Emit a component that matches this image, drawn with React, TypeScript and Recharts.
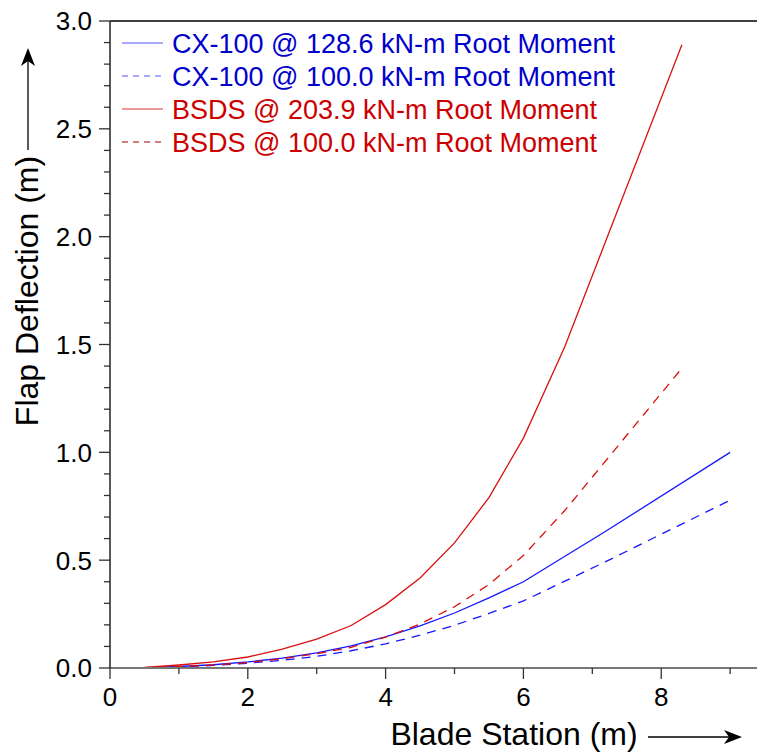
import { Legend, Line, LineChart, ReferenceLine, XAxis, YAxis } from 'recharts'

// blade stations (m) and flap deflections (m)
const bsdsStation = [0, 0.5, 1, 1.5, 2, 2.5, 3, 3.5, 4, 4.5, 5, 5.5, 6, 6.6, 8.3]
const bsdsHigh = [0, 0.003, 0.014, 0.028, 0.051, 0.088, 0.134, 0.197, 0.294, 0.417, 0.58, 0.79, 1.066, 1.49, 2.89]
const bsdsLow = [0, 0.0015, 0.007, 0.014, 0.025, 0.043, 0.066, 0.096, 0.143, 0.204, 0.284, 0.387, 0.522, 0.73, 1.39]

const cxStation = [0, 0.5, 1, 1.5, 2, 2.5, 3, 3.5, 4, 4.5, 5, 5.5, 6, 7.2, 9]
const cxHigh = [0, 0.001, 0.007, 0.015, 0.028, 0.046, 0.07, 0.103, 0.144, 0.195, 0.255, 0.325, 0.4, 0.635, 1.0]
const cxLow = [0, 0.001, 0.005, 0.012, 0.022, 0.036, 0.054, 0.08, 0.112, 0.152, 0.198, 0.253, 0.311, 0.494, 0.778]

const xTicks = [0, 1, 2, 3, 4, 5, 6, 7, 8, 9]
const xLabelled = [0, 2, 4, 6, 8]
const yTicks = [0, 0.1, 0.2, 0.3, 0.4, 0.5, 0.6, 0.7, 0.8, 0.9, 1.0, 1.1, 1.2, 1.3, 1.4, 1.5,
  1.6, 1.7, 1.8, 1.9, 2.0, 2.1, 2.2, 2.3, 2.4, 2.5, 2.6, 2.7, 2.8, 2.9, 3.0]
const yLabelled = [0, 0.5, 1.0, 1.5, 2.0, 2.5, 3.0]

const FONT = '"Liberation Sans", Arial, sans-serif'
const BLUE_LINE = '#1616ff'
const BLUE_TEXT = '#0000cc'
const RED_LINE = '#d81010'
const RED_TEXT = '#cc0000'

const series = [
  { key: 'cxHigh', name: 'CX-100 @ 128.6 kN-m Root Moment', x: cxStation, y: cxHigh, line: BLUE_LINE, text: BLUE_TEXT, dash: undefined, swatch: '#5555ff' },
  { key: 'cxLow', name: 'CX-100 @ 100.0 kN-m Root Moment', x: cxStation, y: cxLow, line: BLUE_LINE, text: BLUE_TEXT, dash: '9 7', swatch: '#5555ff' },
  { key: 'bsdsHigh', name: 'BSDS @ 203.9 kN-m Root Moment', x: bsdsStation, y: bsdsHigh, line: RED_LINE, text: RED_TEXT, dash: undefined, swatch: '#dd3333' },
  { key: 'bsdsLow', name: 'BSDS @ 100.0 kN-m Root Moment', x: bsdsStation, y: bsdsLow, line: RED_LINE, text: RED_TEXT, dash: '9 7', swatch: '#aa0000' },
]

function rows(xs: number[], ys: number[], key: string) {
  return xs.map((x, i) => ({ x, [key]: ys[i] }))
}

const isIn = (list: number[], v: number) => list.some((t) => Math.abs(t - v) < 1e-6)

function XTick({ x, y, payload }: any) {
  const major = isIn(xLabelled, payload.value)
  return (
    <g>
      <line x1={x} x2={x} y1={y} y2={y + (major ? 11 : 6)} stroke="#333" strokeWidth={1.3} />
      {major && (
        <text x={x} y={y + 38} textAnchor="middle" fontSize={26} fontFamily={FONT} fill="#000">
          {payload.value}
        </text>
      )}
    </g>
  )
}

function YTick({ x, y, payload }: any) {
  const major = isIn(yLabelled, payload.value)
  return (
    <g>
      <line x1={x - (major ? 11 : 6)} x2={x} y1={y} y2={y} stroke="#333" strokeWidth={1.3} />
      {major && (
        <text x={x - 18} y={y} dy="0.36em" textAnchor="end" fontSize={26} fontFamily={FONT} fill="#000">
          {Number(payload.value).toFixed(1)}
        </text>
      )}
    </g>
  )
}

function XTitle({ viewBox }: any) {
  const cx = viewBox.x + 404
  const base = 745
  return (
    <g>
      <text x={cx} y={base} textAnchor="middle" fontSize={32} fontFamily={FONT} fill="#000">
        Blade Station (m)
      </text>
      <line x1={648} x2={735} y1={737} y2={737} stroke="#000" strokeWidth={1.3} />
      <path d="M742,737 L724,730 L729,737 L724,744 Z" fill="#000" />
    </g>
  )
}

function YTitle() {
  return (
    <g>
      <text x={38} y={291} transform="rotate(-90 38 291)" textAnchor="middle" fontSize={32} fontFamily={FONT} fill="#000">
        Flap Deflection (m)
      </text>
      <line x1={28} x2={28} y1={150} y2={56} stroke="#000" strokeWidth={1.3} />
      <path d="M28,48 L21,66 L28,61 L35,66 Z" fill="#000" />
    </g>
  )
}

function LegendBox() {
  return (
    <div style={{ fontFamily: FONT, fontSize: 27 }}>
      {series.map((s) => (
        <div key={s.key} style={{ height: 33, lineHeight: '33px', display: 'flex', alignItems: 'flex-start', whiteSpace: 'nowrap' }}>
          <svg width={52} height={33} style={{ flex: 'none' }}>
            <line x1={2} x2={43} y1={15} y2={15} stroke={s.swatch} strokeWidth={1.2} strokeDasharray={s.dash ? '6 5' : undefined} />
          </svg>
          <span style={{ color: s.text }}>{s.name}</span>
        </div>
      ))}
    </div>
  )
}

export default function App() {
  return (
    <div style={{ position: 'absolute', left: 0, top: 0, background: '#fff' }}>
      <LineChart width={757} height={752} margin={{ top: 21, right: 0, bottom: 0, left: 0 }}>
        <XAxis
          dataKey="x"
          type="number"
          domain={[0, 9.39]}
          allowDataOverflow
          ticks={xTicks}
          interval={0}
          height={84}
          tickSize={0}
          tickMargin={0}
          tick={<XTick />}
          axisLine={{ stroke: '#777', strokeWidth: 2 }}
          label={{ content: (p: any) => <XTitle {...p} /> }}
        />
        <YAxis
          type="number"
          domain={[0, 3]}
          allowDataOverflow
          ticks={yTicks}
          interval={0}
          width={110}
          tickSize={0}
          tickMargin={0}
          tick={<YTick />}
          axisLine={{ stroke: '#222', strokeWidth: 1.5 }}
          label={{ content: () => <YTitle /> }}
        />
        <ReferenceLine y={3} stroke="#000" strokeWidth={1.5} />
        {series.map((s) => (
          <Line
            key={s.key}
            data={rows(s.x, s.y, s.key)}
            dataKey={s.key}
            type="linear"
            stroke={s.line}
            strokeWidth={1.3}
            strokeDasharray={s.dash}
            dot={false}
            activeDot={false}
            isAnimationActive={false}
          />
        ))}
        <Legend
          layout="horizontal"
          verticalAlign="middle"
          align="center"
          wrapperStyle={{ top: 28, left: 120, width: 'auto' }}
          content={() => <LegendBox />}
        />
      </LineChart>
    </div>
  )
}
